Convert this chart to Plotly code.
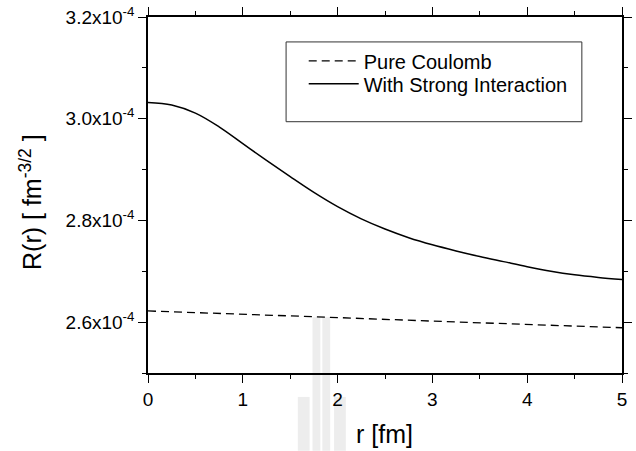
import plotly.graph_objects as go

# ---- data ----
r_strong = [0.0, 0.25, 0.5, 0.75, 1.0, 1.25, 1.5, 1.75, 2.0, 2.25, 2.5,
            2.75, 3.0, 3.25, 3.5, 3.75, 4.0, 4.25, 4.5, 4.75, 5.0]
R_strong = [3.032e-4, 3.027e-4, 3.011e-4, 2.984e-4, 2.951e-4, 2.918e-4,
            2.886e-4, 2.855e-4, 2.827e-4, 2.803e-4, 2.783e-4, 2.766e-4,
            2.752e-4, 2.740e-4, 2.729e-4, 2.719e-4, 2.709e-4, 2.700e-4,
            2.693e-4, 2.688e-4, 2.684e-4]

r_coul = [0.0, 1.0, 2.0, 3.0, 4.0, 5.0]
R_coul = [2.622e-4, 2.616e-4, 2.609e-4, 2.602e-4, 2.595e-4, 2.589e-4]

x_ticks = [0, 1, 2, 3, 4, 5]
y_ticks = [2.6e-4, 2.8e-4, 3.0e-4, 3.2e-4]
y_ticklabels = ["2.6x10<sup>-4</sup>", "2.8x10<sup>-4</sup>",
                "3.0x10<sup>-4</sup>", "3.2x10<sup>-4</sup>"]

FONT = "Liberation Sans, Arial, sans-serif"

fig = go.Figure()
fig.add_trace(go.Scatter(x=r_coul, y=R_coul, mode="lines", name="Pure Coulomb",
                         legend="legend",
                         line=dict(color="black", width=1.3, dash="8px,5px")))
fig.add_trace(go.Scatter(x=r_strong, y=R_strong, mode="lines", line_shape="spline",
                         name="With Strong Interaction", legend="legend2",
                         line=dict(color="black", width=1.5)))

# plot area geometry in pixels
L, R, T, B = 148, 632, 16, 373
W, H = R - L, B - T


def px(x):
    return (x - L) / W


def py(y):
    return (B - y) / H


shapes = []
# faint background watermark
wm = "#ededed"
for (x0, y0, x1, y1) in [(316, 317, 324, 451), (326, 317, 334, 451),
                         (301, 397, 313, 451), (338, 397, 350, 451)]:
    shapes.append(dict(type="rect", xref="paper", yref="paper", layer="below",
                       x0=px(x0), x1=px(x1), y0=py(y1), y1=py(y0),
                       fillcolor=wm, line=dict(width=0)))
# legend frame
shapes.append(dict(type="rect", xref="paper", yref="paper", layer="below",
                   x0=px(289), x1=px(591), y0=py(121), y1=py(41),
                   fillcolor="white", line=dict(color="#333333", width=1)))

axis_common = dict(showgrid=False, zeroline=False, showline=True, linecolor="black",
                   linewidth=1.5, mirror="allticks", ticks="outside", ticklen=8,
                   tickwidth=1.3, tickcolor="black",
                   tickfont=dict(family=FONT, size=19, color="black"))

fig.update_xaxes(range=[0, 5], tickmode="array", tickvals=x_ticks,
                 minor=dict(dtick=0.5, tick0=0, ticks="outside", ticklen=4,
                            tickwidth=1.3, tickcolor="black"),
                 **axis_common)
fig.update_yaxes(range=[2.5e-4, 3.2e-4], tickmode="array", tickvals=y_ticks,
                 ticktext=y_ticklabels,
                 minor=dict(dtick=0.1e-4, tick0=2.5e-4, ticks="outside", ticklen=4,
                            tickwidth=1.3, tickcolor="black"),
                 **axis_common)

annotations = [
    dict(text="r [fm]", xref="paper", yref="paper", x=px(389), y=py(434),
         xanchor="center", yanchor="middle", showarrow=False,
         font=dict(family=FONT, size=25, color="black")),
    dict(text="R(r) [ fm<sup>-3/2</sup> ]", xref="paper", yref="paper",
         x=px(29), y=py(201), textangle=-90, xanchor="center", yanchor="middle",
         showarrow=False, font=dict(family=FONT, size=25, color="black")),
]

legend_common = dict(xanchor="left", yanchor="middle", bgcolor="rgba(0,0,0,0)",
                     borderwidth=0, itemwidth=50,
                     font=dict(family=FONT, size=20, color="black"))

fig.update_layout(
    width=636, height=451,
    margin=dict(l=L, r=636 - R, t=T, b=451 - B),
    paper_bgcolor="white", plot_bgcolor="rgba(0,0,0,0)",
    shapes=shapes, annotations=annotations,
    showlegend=True,
    legend=dict(x=px(307), y=py(60), **legend_common),
    legend2=dict(x=px(307), y=py(83), **legend_common),
)

fig.write_html("out.html")
